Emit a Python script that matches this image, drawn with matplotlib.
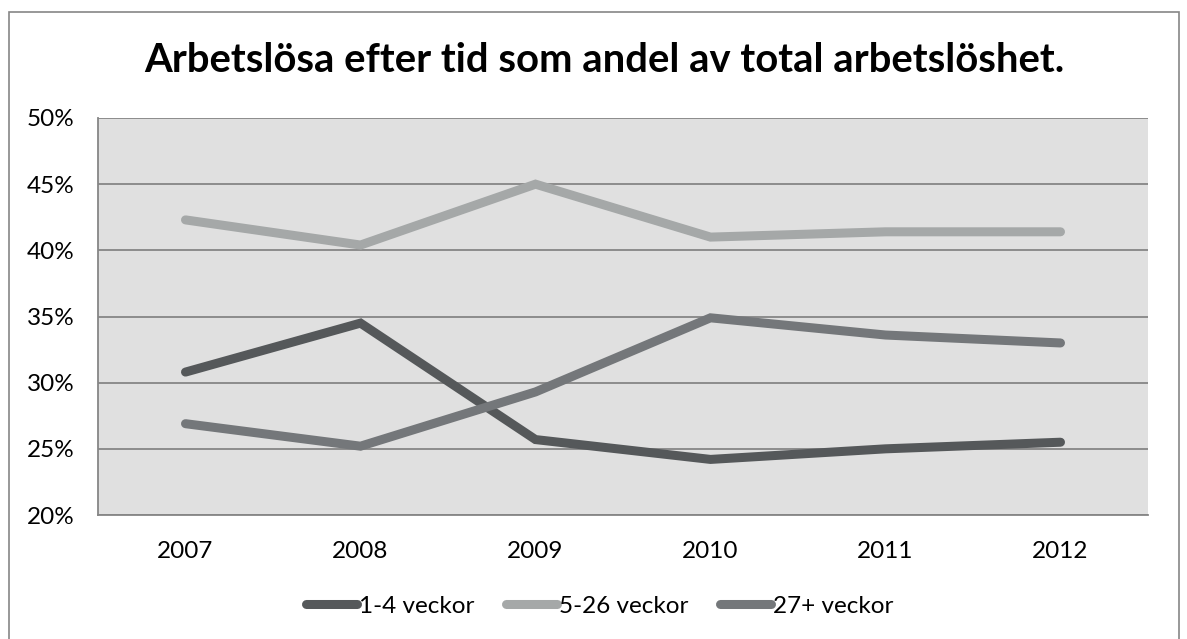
import matplotlib
matplotlib.use("Agg")
from matplotlib import pyplot as plt
from matplotlib.patches import Rectangle
import matplotlib.ticker as ticker

# Data
years = ["2007", "2008", "2009", "2010", "2011", "2012"]
kort = [30.8, 34.5, 25.7, 24.2, 25.0, 25.5]        # 1-4 veckor
mellan = [42.3, 40.4, 45.0, 41.0, 41.4, 41.4]      # 5-26 veckor
lang = [26.9, 25.2, 29.3, 34.9, 33.6, 33.0]        # 27+ veckor
labels = ["1-4 veckor", "5-26 veckor", "27+ veckor"]
colors = ["#55585a", "#a5a8a8", "#74777a"]

plt.rcParams['font.family'] = ['Lato', 'DejaVu Sans']

fig = plt.figure(figsize=(11.87, 6.39), dpi=100)
ax = fig.add_axes([98/1187, 1 - 515/639, (1148 - 98)/1187, (515 - 118)/639])

# outer chart frame
fig.patches.append(Rectangle((9/1187, -0.1), (1179 - 9)/1187, 1.1 - 12/639,
                             transform=fig.transFigure, fill=False,
                             edgecolor="#868686", linewidth=1.2))

x = range(len(years))
for vals, lab, col in zip([kort, mellan, lang], labels, colors):
    ax.plot(x, vals, color=col, linewidth=6.5, label=lab,
            solid_capstyle="round", solid_joinstyle="miter")

ax.set_facecolor("#e0e0e0")
ax.set_xlim(-0.5, len(years) - 0.5)
ax.set_ylim(20, 50)
ax.set_xticks(list(x))
ax.set_xticklabels(years)
ax.yaxis.set_major_locator(ticker.MultipleLocator(5))
ax.yaxis.set_major_formatter(ticker.FuncFormatter(lambda v, p: "%d%%" % v))
ax.grid(axis="y", color="#868686", linewidth=1.3)
ax.set_axisbelow(True)
ax.tick_params(length=0, labelsize=17.5, colors="black")
ax.tick_params(axis="y", pad=17)
ax.tick_params(axis="x", pad=19)
for s in ["top", "right"]:
    ax.spines[s].set_visible(False)
for s in ["left", "bottom"]:
    ax.spines[s].set_color("#868686")
    ax.spines[s].set_linewidth(1.3)

fig.text(0.509, 1 - 72/639, "Arbetslösa efter tid som andel av total arbetslöshet.",
         ha="center", va="baseline", fontsize=28.8, fontweight="bold")

leg = fig.legend(loc="center", bbox_to_anchor=(0.505, 1 - 606/639), ncol=3,
                 frameon=False, fontsize=17.5, handlelength=2.1,
                 handletextpad=0.08, columnspacing=1.3)

fig.savefig("out.png", dpi=100)
